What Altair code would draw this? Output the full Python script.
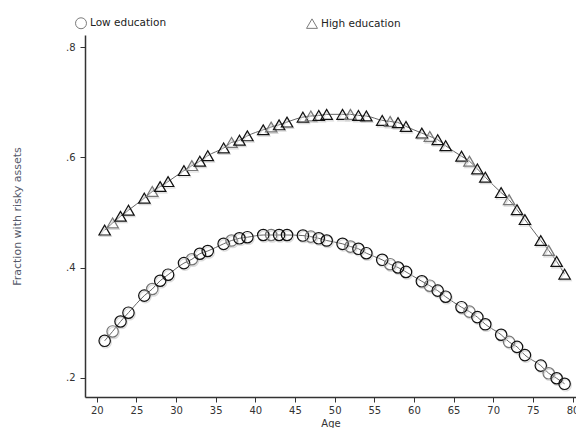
import altair as alt
import pandas as pd

ages = [21, 22, 23, 24, 26, 27, 28, 29, 31, 32, 33, 34, 36, 37, 38, 39,
        41, 42, 43, 44, 46, 47, 48, 49, 51, 52, 53, 54, 56, 57, 58, 59,
        61, 62, 63, 64, 66, 67, 68, 69, 71, 72, 73, 74, 76, 77, 78, 79]

low_edu = [0.267, 0.284, 0.302, 0.318, 0.349, 0.361, 0.376, 0.387,
           0.408, 0.415, 0.425, 0.430, 0.443, 0.449, 0.453, 0.455,
           0.459, 0.459, 0.459, 0.459, 0.458, 0.456, 0.453, 0.449,
           0.443, 0.438, 0.434, 0.426, 0.414, 0.406, 0.400, 0.392,
           0.375, 0.367, 0.358, 0.347, 0.328, 0.320, 0.310, 0.297,
           0.278, 0.265, 0.256, 0.241, 0.222, 0.208, 0.199, 0.189]

high_edu = [0.468, 0.481, 0.493, 0.504, 0.526, 0.538, 0.547, 0.556,
            0.576, 0.585, 0.593, 0.603, 0.617, 0.627, 0.631, 0.639,
            0.650, 0.655, 0.659, 0.664, 0.673, 0.675, 0.676, 0.678,
            0.678, 0.678, 0.676, 0.675, 0.667, 0.665, 0.663, 0.656,
            0.644, 0.638, 0.632, 0.621, 0.602, 0.593, 0.579, 0.564,
            0.536, 0.523, 0.505, 0.487, 0.449, 0.431, 0.411, 0.388]

groups = ["Low education", "High education"]
x_ticks = [20, 25, 30, 35, 40, 45, 50, 55, 60, 65, 70, 75, 80]
y_ticks = [0.2, 0.4, 0.6, 0.8]

rows = []
for g, vals in zip(groups, [low_edu, high_edu]):
    for a, v in zip(ages, vals):
        rows.append({"age": a, "frac": v, "group": g,
                     "tone": "light" if a % 5 == 2 else "dark"})
df = pd.DataFrame(rows)

FONT = "DejaVu Sans"

x = alt.X("age:Q",
          scale=alt.Scale(domain=[18.52, 80.44], nice=False, zero=False),
          axis=alt.Axis(values=x_ticks, title="Age", labelPadding=3,
                        titleY=26, titleBaseline="middle", titleFontSize=10,
                        titleFontWeight="normal", titleColor="#333"))
y = alt.Y("frac:Q",
          scale=alt.Scale(domain=[0.165, 0.822], nice=False, zero=False),
          axis=alt.Axis(values=y_ticks,
                        labelExpr="replace(format(datum.value, '.1f'), '0.', '.')",
                        title="Fraction with risky assets", labelPadding=5,
                        titleX=-68, titleY=181, titleAngle=270,
                        titleAlign="center", titleBaseline="middle",
                        titleFontSize=11, titleFontWeight="normal",
                        titleColor="#55596a"))

shape_scale = alt.Scale(domain=groups, range=["circle", "triangle-up"])
legend = alt.Legend(orient="none", legendX=-10, legendY=-18,
                    direction="horizontal", title=None, columnPadding=137,
                    symbolSize=120, symbolStrokeWidth=1,
                    symbolStrokeColor="#444", symbolFillColor="transparent",
                    labelFont=FONT, labelFontSize=10.5, labelColor="#222",
                    labelOffset=3)

line = alt.Chart(df).mark_line(color="#666", strokeWidth=1,
                               interpolate="monotone").encode(
    x=x, y=y, detail="group:N")

shadow = alt.Chart(df).mark_point(filled=False, size=130, strokeWidth=1.2,
                                  xOffset=1, yOffset=1.5,
                                  color="#cccccc").encode(
    x=x, y=y, shape=alt.Shape("group:N", scale=shape_scale, legend=legend))

pts = alt.Chart(df).mark_point(filled=False, size=130, strokeWidth=1.2,
                               opacity=1).encode(
    x=x, y=y,
    shape=alt.Shape("group:N", scale=shape_scale, legend=legend),
    color=alt.Color("tone:N", scale=alt.Scale(domain=["dark", "light"],
                                              range=["#111111", "#777777"]),
                    legend=None))

chart = alt.layer(line, shadow, pts).properties(
    width=491, height=362,
    autosize=alt.AutoSizeParams(type="none"),
    padding={"left": 85, "top": 35, "right": 0, "bottom": 31},
    background="white",
).configure_view(stroke=None).configure_axis(
    grid=False, domainColor="#333333", domainWidth=1.5,
    tickColor="#333333", tickSize=5, tickWidth=1,
    labelFont=FONT, labelFontSize=10, labelColor="#333333",
    titleFont=FONT,
)

chart.save("out.html", embed_options={"renderer": "svg", "actions": False})
